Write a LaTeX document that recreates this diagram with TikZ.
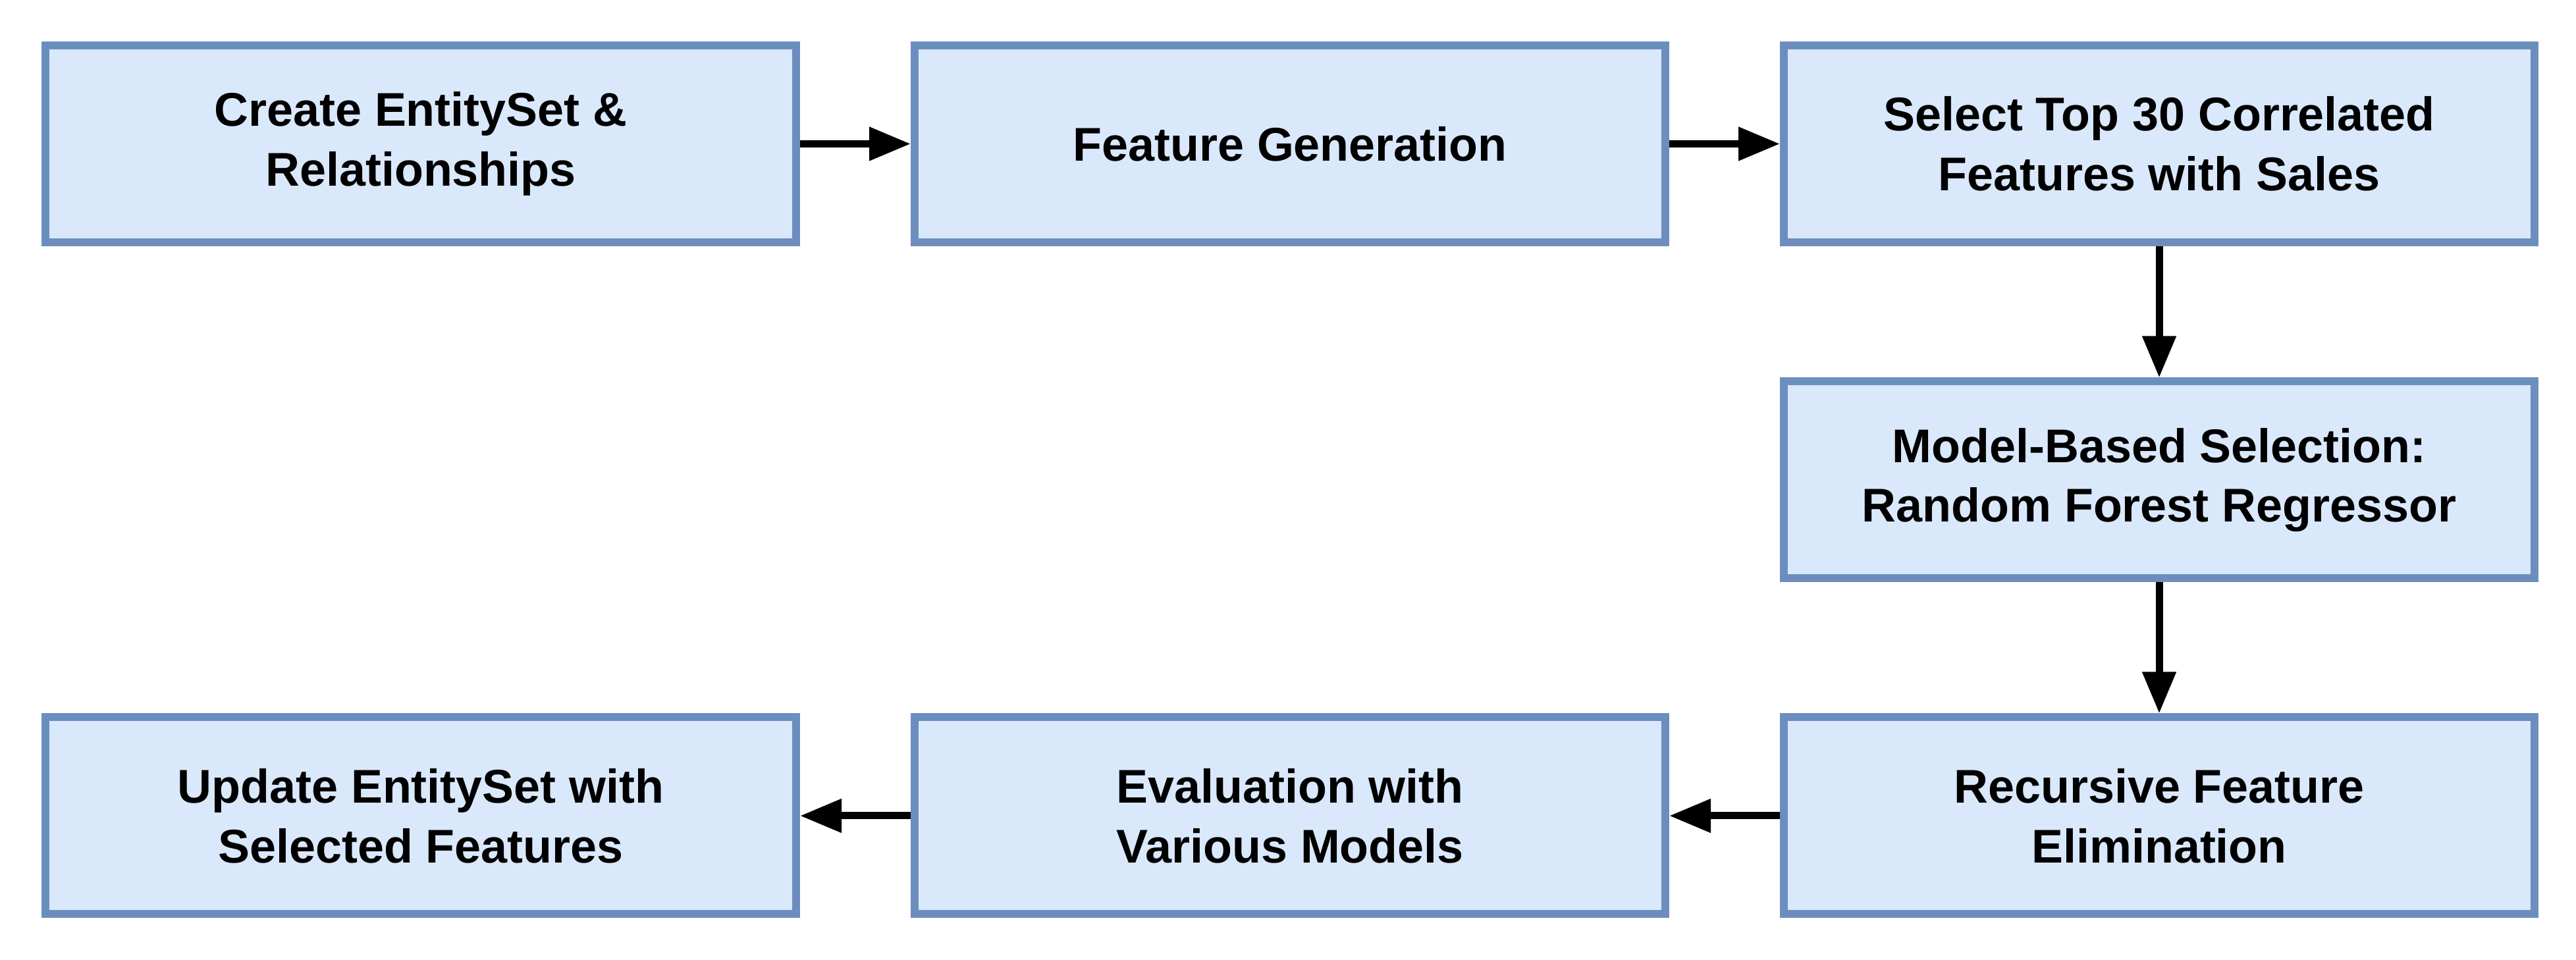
\documentclass[tikz,border=0pt]{standalone}
\usepackage{fontspec}
\setmainfont{Liberation Sans}
\usetikzlibrary{arrows.meta}
\definecolor{boxfill}{HTML}{DAE8FC}
\definecolor{boxdraw}{HTML}{6C8EBF}
\begin{document}
\begin{tikzpicture}[
  stepbox/.style={draw=boxdraw, fill=boxfill, line width=0.12cm,
    minimum width=11.40cm, minimum height=2.99cm, inner sep=0pt,
    align=center, font=\fontsize{20.45}{25.8}\selectfont\bfseries},
  flow/.style={line width=0.11cm, -{Triangle[length=0.63cm,width=0.49cm]}}
]
\useasboundingbox (0,0) rectangle (39.12,14.58);
\node[stepbox] (a) at (6.39,12.395) {Create EntitySet \&\\Relationships};
\node[stepbox] (b) at (19.59,12.395) {Feature Generation};
\node[stepbox] (c) at (32.79,12.395) {Select Top 30 Correlated\\Features with Sales};
\node[stepbox] (d) at (32.79,7.29) {Model-Based Selection:\\Random Forest Regressor};
\node[stepbox] (e) at (32.79,2.19) {Recursive Feature\\Elimination};
\node[stepbox] (f) at (19.59,2.19) {Evaluation with\\Various Models};
\node[stepbox] (g) at (6.39,2.19) {Update EntitySet with\\Selected Features};
\draw[flow] (a) -- (b);
\draw[flow] (b) -- (c);
\draw[flow] (c) -- (d);
\draw[flow] (d) -- (e);
\draw[flow] (e) -- (f);
\draw[flow] (f) -- (g);
\end{tikzpicture}
\end{document}
